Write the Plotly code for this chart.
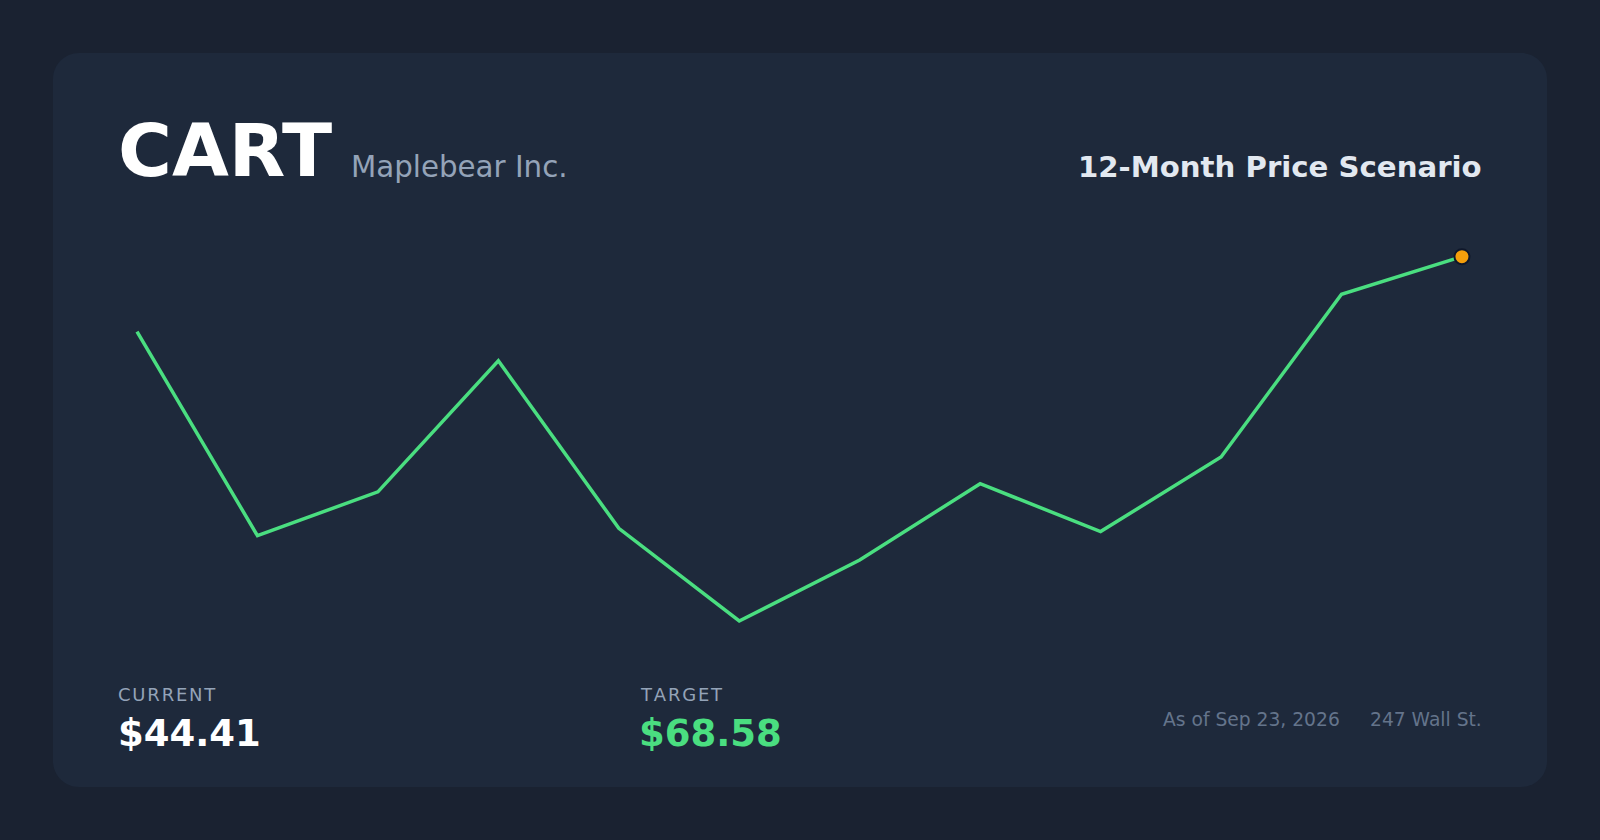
import plotly.graph_objects as go

# scenario path, one value per month
months = list(range(12))
prices = [62.59, 46.26, 49.77, 60.26, 46.85, 39.44, 44.32, 50.42, 46.59, 52.56, 65.57, 68.58]

ticker = "CART"
company = "Maplebear Inc."
chart_title = "12-Month Price Scenario"
current_label = "CURRENT"
current_price = "$44.41"
target_label = "TARGET"
target_price = "$68.58"
as_of = "As of Sep 23, 2026"
source = "247 Wall St."

W, H = 1600, 840
FONT = "DejaVu Sans"


def px(x):
    return x / W


def py(y):
    return 1 - y / H


def spaced(s):
    # rough letter spacing with hair spaces
    return "\u200a".join(s)


def rounded_rect(x0, y0, x1, y1, r):
    k = r * 0.448  # cubic handle offset for a circular-looking corner
    return (f"M {px(x0 + r)},{py(y0)} L {px(x1 - r)},{py(y0)} "
            f"C {px(x1 - k)},{py(y0)} {px(x1)},{py(y0 + k)} {px(x1)},{py(y0 + r)} "
            f"L {px(x1)},{py(y1 - r)} "
            f"C {px(x1)},{py(y1 - k)} {px(x1 - k)},{py(y1)} {px(x1 - r)},{py(y1)} "
            f"L {px(x0 + r)},{py(y1)} "
            f"C {px(x0 + k)},{py(y1)} {px(x0)},{py(y1 - k)} {px(x0)},{py(y1 - r)} "
            f"L {px(x0)},{py(y0 + r)} "
            f"C {px(x0)},{py(y0 + k)} {px(x0 + k)},{py(y0)} {px(x0 + r)},{py(y0)} Z")


fig = go.Figure()

fig.add_trace(go.Scatter(
    x=months,
    y=prices,
    mode="lines",
    line=dict(color="#4ade80", width=3.5),
    hoverinfo="skip",
    showlegend=False,
))

fig.add_trace(go.Scatter(
    x=[months[-1]],
    y=[prices[-1]],
    mode="markers",
    marker=dict(size=15, color="#f59e0b", line=dict(color="#0f172a", width=2)),
    cliponaxis=False,
    hoverinfo="skip",
    showlegend=False,
))

# plot box in pixels: x 117..1483, y 236.7..636.7
x_step = 120.45
x_first = 137.0
y_scale = 0.08  # price per pixel
y_last = 256.7

fig.update_xaxes(
    domain=[px(117), px(1483)],
    range=[(117 - x_first) / x_step, 11 + (1483 - (x_first + 11 * x_step)) / x_step],
    visible=False, fixedrange=True,
)
fig.update_yaxes(
    domain=[py(636.7), py(236.7)],
    range=[prices[-1] - (636.7 - y_last) * y_scale, prices[-1] + (y_last - 236.7) * y_scale],
    visible=False, fixedrange=True,
)


def note(text, x, y_bottom, size, color, anchor="left", bold=False):
    fig.add_annotation(
        text=text, x=px(x), y=py(y_bottom), xref="paper", yref="paper",
        xanchor=anchor, yanchor="bottom", showarrow=False, borderpad=0,
        font=dict(family=FONT, size=size, color=color,
                  weight="bold" if bold else "normal"),
    )


note(ticker, 117, 194, 73.5, "#ffffff", bold=True)
note(company, 350, 184.5, 29.3, "#94a3b8")
note(chart_title, 1483, 184.5, 29.2, "#e2e8f0", anchor="right", bold=True)

note(spaced(current_label), 117, 706, 18, "#94a3b8")
note(current_price, 116.5, 756, 37, "#ffffff", bold=True)
note(spaced(target_label), 639, 706, 18, "#94a3b8")
note(target_price, 638, 756, 37, "#4ade80", bold=True)

note(as_of, 1341, 731, 18.7, "#64748b", anchor="right")
note(source, 1483, 731, 18.7, "#64748b", anchor="right")

fig.update_layout(
    width=W, height=H,
    margin=dict(l=0, r=0, t=0, b=0),
    paper_bgcolor="#1a2231",
    plot_bgcolor="rgba(0,0,0,0)",
    font=dict(family=FONT),
    shapes=[dict(
        type="path", xref="paper", yref="paper", layer="below",
        path=rounded_rect(53, 53, 1547, 787, 26),
        fillcolor="#1e293b", line=dict(width=0),
    )],
)

fig.write_html("out.html", config={"displayModeBar": False},
               post_script="document.body.style.margin='0';")
